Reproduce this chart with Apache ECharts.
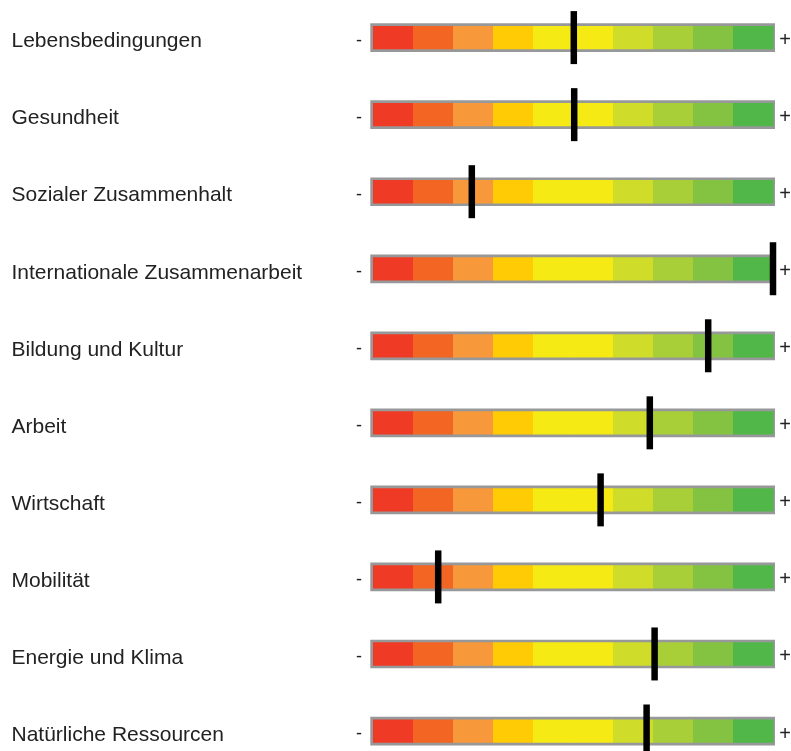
<!DOCTYPE html>
<html>
<head>
<meta charset="utf-8">
<script src="https://cdn.jsdelivr.net/npm/echarts@6/dist/echarts.min.js"></script>
<style>html,body{margin:0;padding:0;background:#fff;}#c{width:791px;height:751px;}</style>
</head>
<body>
<div id="c"></div>
<script>
const categories = [
  'Lebensbedingungen',
  'Gesundheit',
  'Sozialer Zusammenhalt',
  'Internationale Zusammenarbeit',
  'Bildung und Kultur',
  'Arbeit',
  'Wirtschaft',
  'Mobilität',
  'Energie und Klima',
  'Natürliche Ressourcen'
];
const markerValues = [5.02, 5.03, 2.47, 10.0, 8.38, 6.92, 5.69, 1.63, 7.04, 6.84];
const segmentColors = ['#EF3B25', '#F26522', '#F7993A', '#FFCB05', '#F6EA15', '#F6EA15', '#CFDC29', '#A9CF38', '#84C341', '#50B748'];
const scaleMin = 0;
const scaleMax = 10;

const chart = echarts.init(document.getElementById('c'), null, {renderer: 'canvas'});

const gaugeData = categories.map((c, i) => [i]);
const markerData = markerValues.map((v, i) => [v, i]);
const FONT = '"Liberation Sans", Arial, sans-serif';

function renderGauge(params, api) {
  const row = api.value(0);
  const p0 = api.coord([scaleMin, row]);
  const p1 = api.coord([scaleMax, row]);
  const cy = p0[1];
  const children = [];
  children.push({
    type: 'text',
    style: {text: categories[row], x: 11.5, y: cy + 4, fill: '#222', font: '21px ' + FONT, align: 'left', verticalAlign: 'middle'}
  });
  children.push({
    type: 'rect',
    shape: {x: p0[0] - 2.7, y: cy - 14.3, width: (p1[0] - p0[0]) + 4.7, height: 28.7},
    style: {fill: '#97989A'}
  });
  segmentColors.forEach((col, k) => {
    const a = api.coord([k, row])[0];
    const b = api.coord([k + 1, row])[0];
    children.push({
      type: 'rect',
      shape: {x: a, y: cy - 11.6, width: b - a + 0.5, height: 23.3},
      style: {fill: col}
    });
  });
  children.push({
    type: 'text',
    style: {text: '-', x: p0[0] - 14, y: cy + 3, fill: '#222', font: '18px ' + FONT, align: 'center', verticalAlign: 'middle'}
  });
  children.push({
    type: 'text',
    style: {text: '+', x: p1[0] + 12, y: cy + 3, fill: '#222', font: '20px ' + FONT, align: 'center', verticalAlign: 'middle'}
  });
  return {type: 'group', children};
}

chart.setOption({
  animation: false,
  grid: {left: 373, right: 18, top: 37.6, bottom: 20, containLabel: false},
  xAxis: {type: 'value', min: scaleMin, max: scaleMax, show: false},
  yAxis: {
    type: 'value', inverse: true, min: 0, max: categories.length - 1, interval: 1,
    axisLine: {show: false}, axisTick: {show: false}, splitLine: {show: false},
    axisLabel: {show: false}
  },
  series: [
    {
      type: 'custom', renderItem: renderGauge, data: gaugeData, silent: true,
      encode: {y: 0}, clip: false
    },
    {
      type: 'scatter', data: markerData, symbol: 'rect', symbolSize: [6.5, 53],
      itemStyle: {color: '#000', opacity: 1}, silent: true, z: 5
    }
  ]
});
</script>
</body>
</html>
